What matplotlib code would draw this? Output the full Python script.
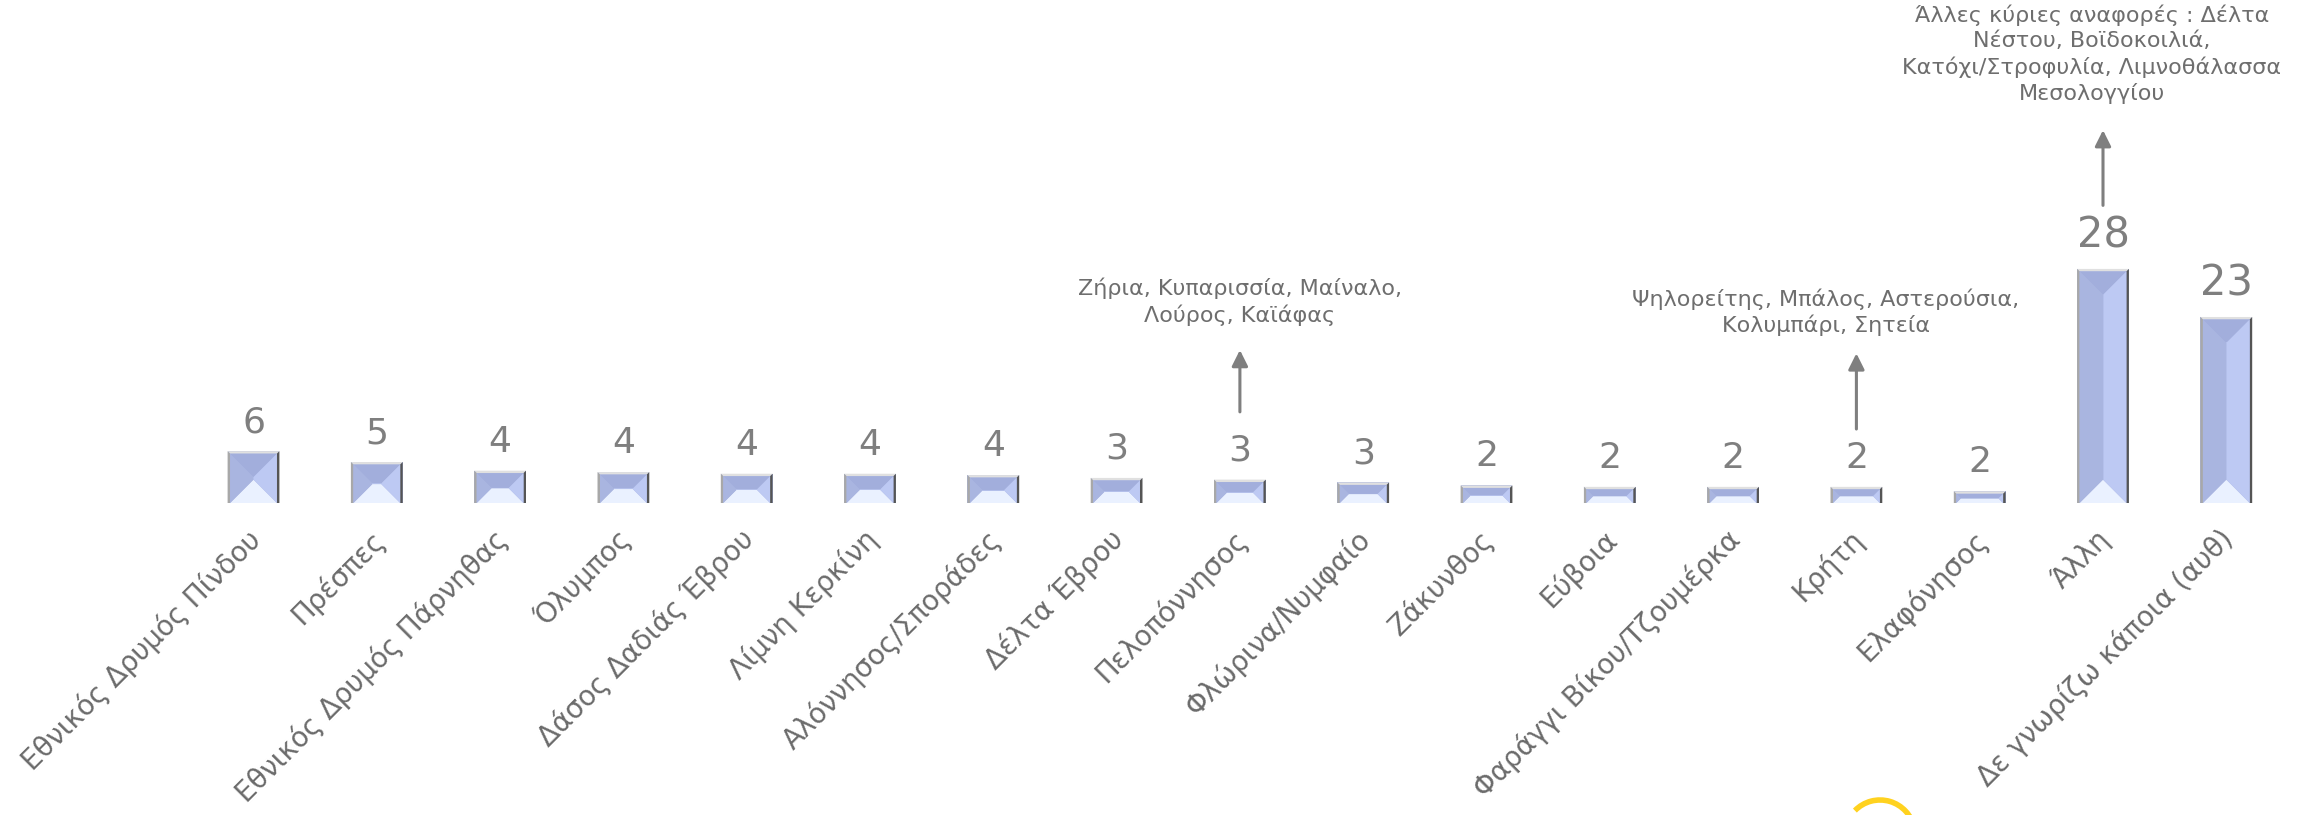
import matplotlib
matplotlib.use('Agg')
import matplotlib.pyplot as plt
from matplotlib.patches import Polygon, Arc

# -------------------------------
# DATA
# -------------------------------
categories = [
    'Εθνικός Δρυμός Πίνδου', 'Πρέσπες', 'Εθνικός Δρυμός Πάρνηθας', 'Όλυμπος',
    'Δάσος Δαδιάς Έβρου', 'Λίμνη Κερκίνη', 'Αλόννησος/Σποράδες', 'Δέλτα Έβρου',
    'Πελοπόννησος', 'Φλώρινα/Νυμφαίο', 'Ζάκυνθος', 'Εύβοια',
    'Φαράγγι Βίκου/Τζουμέρκα', 'Κρήτη', 'Ελαφόνησος', 'Άλλη',
    'Δε γνωρίζω κάποια (αυθ)',
]
# bar heights (underlying % values)
heights = [6.2, 4.9, 3.87, 3.7, 3.5, 3.5, 3.34, 3.0, 2.8, 2.46,
           2.1, 1.93, 1.93, 1.93, 1.4, 28.0, 22.25]
# rounded labels shown above the bars
value_labels = ['6', '5', '4', '4', '4', '4', '4', '3', '3', '3',
                '2', '2', '2', '2', '2', '28', '23']

notes = [
    (8, 'Ζήρια, Κυπαρισσία, Μαίναλο,\nΛούρος, Καϊάφας'),
    (13, 'Ψηλορείτης, Μπάλος, Αστερούσια,\nΚολυμπάρι, Σητεία'),
    (15, 'Άλλες κύριες αναφορές : Δέλτα\nΝέστου, Βοϊδοκοιλιά,\n'
         'Κατόχι/Στροφυλία, Λιμνοθάλασσα\nΜεσολογγίου'),
]

# -------------------------------
# LAYOUT (pixels of the 2303x815 picture)
# -------------------------------
W, H = 2303, 815
X0_PX, STEP_PX = 253.5, 123.3   # first bar centre, bar spacing
BASE_PX = 503                    # baseline from top
UNIT_PX = 8.36                   # pixels per value unit

TEXT_GREY = '#7f7f7f'
LABEL_GREY = '#6b6b6b'

plt.rcParams['font.family'] = ['DejaVu Sans']

fig = plt.figure(figsize=(W / 100, H / 100), dpi=100)
ax = fig.add_axes([0, (H - BASE_PX) / H, 1, BASE_PX / H])
ax.set_xlim(-X0_PX / STEP_PX, (W - X0_PX) / STEP_PX)
ax.set_ylim(0, BASE_PX / UNIT_PX)
ax.axis('off')

x = list(range(len(categories)))
bars = ax.bar(x, heights, width=0.42, color='#aab6e2', edgecolor='none', zorder=2)


def quad(pts, color, z):
    ax.add_patch(Polygon(pts, closed=True, facecolor=color, edgecolor='none',
                         zorder=z, clip_on=False))


# bevelled frame + pyramid facets for each bar
sx, sy = STEP_PX, UNIT_PX
for b in bars:
    x0, w, h = b.get_x(), b.get_width(), b.get_height()
    x1, y0, y1 = x0 + w, 0, h
    t = 2.5
    tx, ty = t / sx, t / sy
    # outer frame
    quad([(x0, y1), (x1, y1), (x1 - tx, y1 - ty), (x0 + tx, y1 - ty)], '#e0e0e0', 3)
    quad([(x0, y0), (x0, y1), (x0 + tx, y1 - ty), (x0 + tx, y0)], '#a8a8a8', 3)
    quad([(x1, y0), (x1, y1), (x1 - tx, y1 - ty), (x1 - tx, y0)], '#555555', 3)
    # inner face
    a0, a1, b0, b1 = x0 + tx, x1 - tx, y0, y1 - ty
    d = min((a1 - a0) * sx, (b1 - b0) * sy) * 0.49
    dx, dy = d / sx, d / sy
    i0, i1, j0, j1 = a0 + dx, a1 - dx, b0 + dy, b1 - dy
    quad([(a0, b0), (a1, b0), (i1, j0), (i0, j0)], '#eaf1ff', 4)
    quad([(a0, b1), (a1, b1), (i1, j1), (i0, j1)], '#a2aedc', 4)
    quad([(a0, b0), (a0, b1), (i0, j1), (i0, j0)], '#a9b5e0', 4)
    quad([(a1, b0), (a1, b1), (i1, j1), (i1, j0)], '#bdc9f3', 4)
    quad([(i0, j0), (i1, j0), (i1, j1), (i0, j1)], '#b3bfea', 4)

# value labels
for xi, hi, lab in zip(x, heights, value_labels):
    fs = 30 if hi >= 20 else 26
    ax.annotate(lab, xy=(xi, hi), xytext=(0, 12), textcoords='offset pixels',
                ha='center', va='bottom', fontsize=fs, color=TEXT_GREY,
                annotation_clip=False)

# category labels, rotated 45
for xi, cat in zip(x, categories):
    ax.annotate(cat, xy=(xi, 0), xytext=(3, -32), textcoords='offset pixels',
                rotation=45, rotation_mode='anchor', ha='right', va='center',
                fontsize=20, color=LABEL_GREY, annotation_clip=False)

# notes with arrows
note_pos = {8: (8.0, 27.0), 13: (12.75, 25.7), 15: (14.91, 59.6)}
arrow_y = {8: (10.9, 18.3), 13: (8.85, 17.9), 15: (35.6, 44.6)}
for idx, txt in notes:
    tx_, ty_ = note_pos[idx]
    ax.text(tx_, ty_, txt, ha='center', va='top', fontsize=16,
            color='#6e6e6e', linespacing=1.3, clip_on=False)
    y_tail, y_head = arrow_y[idx]
    ax.annotate('', xy=(idx, y_head), xytext=(idx, y_tail),
                arrowprops=dict(arrowstyle='-|>', color='#7f7f7f', lw=2.2,
                                mutation_scale=24, shrinkA=0, shrinkB=0),
                annotation_clip=False)

# bit of a yellow logo arc at the bottom edge
fig.add_artist(Arc((1880 / W, -20 / H), 70 / W, 70 / H, theta1=30, theta2=110,
                   transform=fig.transFigure, color='#ffd21f', lw=4))

plt.savefig('out.png', dpi=100)
plt.close()
